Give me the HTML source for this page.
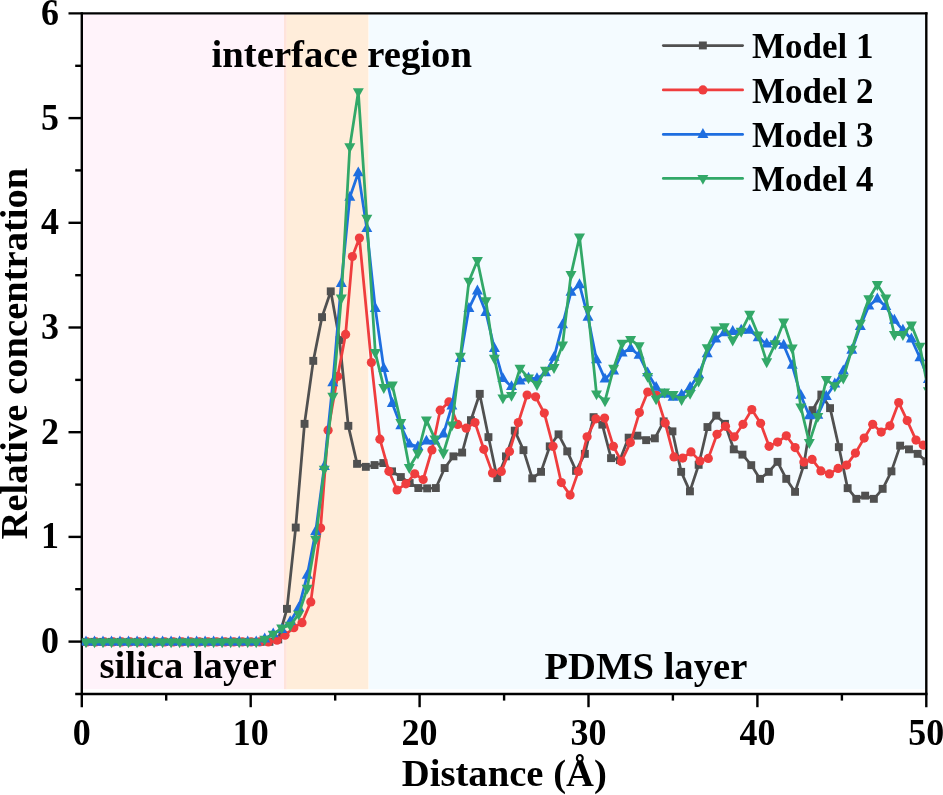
<!DOCTYPE html><html><head><meta charset="utf-8"><title>chart</title><style>html,body{margin:0;padding:0;background:#fff}svg{display:block;will-change:transform}text{font-family:"Liberation Serif",serif;font-weight:bold;fill:#000}</style></head><body>
<svg width="943" height="795" viewBox="0 0 943 795">
<rect width="943" height="795" fill="#fff"/>
<rect x="83" y="14.4" width="201.0" height="674.8000000000001" fill="#FFF3FA"/>
<rect x="284" y="14.4" width="2.8" height="674.8000000000001" fill="#FFE3DB"/>
<rect x="286.6" y="14.4" width="81.79999999999995" height="674.8000000000001" fill="#FFEDDA"/>
<rect x="369" y="14.4" width="556.2" height="674.8000000000001" fill="#F4FBFF"/>
<defs><clipPath id="c"><rect x="81.7" y="13.399999999999977" width="843.4499999999999" height="680.5500000000001"/></clipPath></defs>
<g stroke="#000" stroke-width="2.4" fill="none" stroke-linecap="butt">
<line x1="81.8" y1="12.199999999999978" x2="81.8" y2="707.2"/>
<line x1="926.3" y1="12.199999999999978" x2="926.3" y2="707.2"/>
<line x1="68.5" y1="13.399999999999977" x2="927.5" y2="13.399999999999977"/>
<line x1="75.2" y1="693.95" x2="927.5" y2="693.95"/>
<line x1="68.5" y1="641.6" x2="81.8" y2="641.6"/>
<line x1="75.2" y1="589.2" x2="81.8" y2="589.2"/>
<line x1="68.5" y1="536.9" x2="81.8" y2="536.9"/>
<line x1="75.2" y1="484.6" x2="81.8" y2="484.6"/>
<line x1="68.5" y1="432.2" x2="81.8" y2="432.2"/>
<line x1="75.2" y1="379.9" x2="81.8" y2="379.9"/>
<line x1="68.5" y1="327.5" x2="81.8" y2="327.5"/>
<line x1="75.2" y1="275.2" x2="81.8" y2="275.2"/>
<line x1="68.5" y1="222.8" x2="81.8" y2="222.8"/>
<line x1="75.2" y1="170.4" x2="81.8" y2="170.4"/>
<line x1="68.5" y1="118.1" x2="81.8" y2="118.1"/>
<line x1="75.2" y1="65.8" x2="81.8" y2="65.8"/>
<line x1="166.2" y1="694.0" x2="166.2" y2="700.6"/>
<line x1="250.7" y1="694.0" x2="250.7" y2="707.2"/>
<line x1="335.2" y1="694.0" x2="335.2" y2="700.6"/>
<line x1="419.6" y1="694.0" x2="419.6" y2="707.2"/>
<line x1="504.1" y1="694.0" x2="504.1" y2="700.6"/>
<line x1="588.5" y1="694.0" x2="588.5" y2="707.2"/>
<line x1="672.9" y1="694.0" x2="672.9" y2="700.6"/>
<line x1="757.4" y1="694.0" x2="757.4" y2="707.2"/>
<line x1="841.9" y1="694.0" x2="841.9" y2="700.6"/>
</g>
<g clip-path="url(#c)">
<polyline fill="none" stroke="#505050" stroke-width="2.75" stroke-linejoin="round" stroke-linecap="round" points="85.5,641.9 94.3,641.9 103.0,641.9 111.8,641.9 120.5,641.9 129.3,641.9 138.1,641.9 146.8,641.9 155.6,641.9 164.3,641.9 173.1,641.9 181.9,641.9 190.6,641.9 199.4,641.9 208.1,641.9 216.9,641.9 225.7,641.9 234.4,641.9 243.2,641.9 251.9,641.9 260.7,641.9 269.5,641.9 278.2,639.5 287.0,608.9 295.7,527.6 304.5,423.9 313.3,360.9 322.0,317.1 330.8,291.3 339.5,340.0 348.3,425.9 357.1,463.8 365.8,466.8 374.6,465.0 383.3,463.0 392.1,471.3 400.9,477.0 409.6,483.0 418.4,488.0 427.1,488.3 435.9,488.0 444.7,468.0 453.4,456.3 462.2,452.5 470.9,420.2 479.7,393.9 488.5,437.1 497.2,478.1 506.0,456.4 514.7,430.6 523.5,450.1 532.3,478.4 541.0,471.9 549.8,446.3 558.5,434.3 567.3,451.4 576.1,470.9 584.8,453.9 593.6,417.1 602.3,424.6 611.1,458.1 619.9,460.1 628.6,437.6 637.4,435.6 646.1,440.1 654.9,438.3 663.7,421.3 672.4,431.3 681.2,471.9 689.9,491.4 698.7,464.8 707.5,427.0 716.2,415.6 725.0,423.8 733.7,449.3 742.5,454.6 751.3,465.1 760.0,478.9 768.8,471.9 777.5,461.9 786.3,478.9 795.1,491.9 803.8,465.1 812.6,410.1 821.3,394.5 830.1,408.1 838.9,447.1 847.6,488.1 856.4,498.9 865.1,495.6 873.9,498.9 882.7,488.9 891.4,471.4 900.2,445.6 908.9,449.3 917.7,453.9 926.5,461.4"/>
<rect x="81.5" y="637.9" width="7.9" height="7.9" fill="#505050"/><rect x="90.3" y="637.9" width="7.9" height="7.9" fill="#505050"/><rect x="99.1" y="637.9" width="7.9" height="7.9" fill="#505050"/><rect x="107.8" y="637.9" width="7.9" height="7.9" fill="#505050"/><rect x="116.6" y="637.9" width="7.9" height="7.9" fill="#505050"/><rect x="125.4" y="637.9" width="7.9" height="7.9" fill="#505050"/><rect x="134.1" y="637.9" width="7.9" height="7.9" fill="#505050"/><rect x="142.9" y="637.9" width="7.9" height="7.9" fill="#505050"/><rect x="151.6" y="637.9" width="7.9" height="7.9" fill="#505050"/><rect x="160.4" y="637.9" width="7.9" height="7.9" fill="#505050"/><rect x="169.2" y="637.9" width="7.9" height="7.9" fill="#505050"/><rect x="177.9" y="637.9" width="7.9" height="7.9" fill="#505050"/><rect x="186.7" y="637.9" width="7.9" height="7.9" fill="#505050"/><rect x="195.4" y="637.9" width="7.9" height="7.9" fill="#505050"/><rect x="204.2" y="637.9" width="7.9" height="7.9" fill="#505050"/><rect x="213.0" y="637.9" width="7.9" height="7.9" fill="#505050"/><rect x="221.7" y="637.9" width="7.9" height="7.9" fill="#505050"/><rect x="230.5" y="637.9" width="7.9" height="7.9" fill="#505050"/><rect x="239.2" y="637.9" width="7.9" height="7.9" fill="#505050"/><rect x="248.0" y="637.9" width="7.9" height="7.9" fill="#505050"/><rect x="256.8" y="637.9" width="7.9" height="7.9" fill="#505050"/><rect x="265.5" y="637.9" width="7.9" height="7.9" fill="#505050"/><rect x="274.3" y="635.5" width="7.9" height="7.9" fill="#505050"/><rect x="283.0" y="604.9" width="7.9" height="7.9" fill="#505050"/><rect x="291.8" y="523.6" width="7.9" height="7.9" fill="#505050"/><rect x="300.6" y="419.9" width="7.9" height="7.9" fill="#505050"/><rect x="309.3" y="356.9" width="7.9" height="7.9" fill="#505050"/><rect x="318.1" y="313.2" width="7.9" height="7.9" fill="#505050"/><rect x="326.8" y="287.4" width="7.9" height="7.9" fill="#505050"/><rect x="335.6" y="336.1" width="7.9" height="7.9" fill="#505050"/><rect x="344.4" y="421.9" width="7.9" height="7.9" fill="#505050"/><rect x="353.1" y="459.9" width="7.9" height="7.9" fill="#505050"/><rect x="361.9" y="462.9" width="7.9" height="7.9" fill="#505050"/><rect x="370.6" y="461.1" width="7.9" height="7.9" fill="#505050"/><rect x="379.4" y="459.1" width="7.9" height="7.9" fill="#505050"/><rect x="388.1" y="467.4" width="7.9" height="7.9" fill="#505050"/><rect x="396.9" y="473.1" width="7.9" height="7.9" fill="#505050"/><rect x="405.7" y="479.1" width="7.9" height="7.9" fill="#505050"/><rect x="414.4" y="484.1" width="7.9" height="7.9" fill="#505050"/><rect x="423.2" y="484.4" width="7.9" height="7.9" fill="#505050"/><rect x="431.9" y="484.1" width="7.9" height="7.9" fill="#505050"/><rect x="440.7" y="464.1" width="7.9" height="7.9" fill="#505050"/><rect x="449.5" y="452.4" width="7.9" height="7.9" fill="#505050"/><rect x="458.2" y="448.6" width="7.9" height="7.9" fill="#505050"/><rect x="467.0" y="416.2" width="7.9" height="7.9" fill="#505050"/><rect x="475.8" y="389.9" width="7.9" height="7.9" fill="#505050"/><rect x="484.5" y="433.2" width="7.9" height="7.9" fill="#505050"/><rect x="493.3" y="474.2" width="7.9" height="7.9" fill="#505050"/><rect x="502.0" y="452.4" width="7.9" height="7.9" fill="#505050"/><rect x="510.8" y="426.7" width="7.9" height="7.9" fill="#505050"/><rect x="519.5" y="446.2" width="7.9" height="7.9" fill="#505050"/><rect x="528.3" y="474.4" width="7.9" height="7.9" fill="#505050"/><rect x="537.1" y="467.9" width="7.9" height="7.9" fill="#505050"/><rect x="545.8" y="442.4" width="7.9" height="7.9" fill="#505050"/><rect x="554.6" y="430.4" width="7.9" height="7.9" fill="#505050"/><rect x="563.3" y="447.4" width="7.9" height="7.9" fill="#505050"/><rect x="572.1" y="466.9" width="7.9" height="7.9" fill="#505050"/><rect x="580.9" y="449.9" width="7.9" height="7.9" fill="#505050"/><rect x="589.6" y="413.2" width="7.9" height="7.9" fill="#505050"/><rect x="598.4" y="420.7" width="7.9" height="7.9" fill="#505050"/><rect x="607.1" y="454.2" width="7.9" height="7.9" fill="#505050"/><rect x="615.9" y="456.2" width="7.9" height="7.9" fill="#505050"/><rect x="624.7" y="433.7" width="7.9" height="7.9" fill="#505050"/><rect x="633.4" y="431.7" width="7.9" height="7.9" fill="#505050"/><rect x="642.2" y="436.2" width="7.9" height="7.9" fill="#505050"/><rect x="650.9" y="434.4" width="7.9" height="7.9" fill="#505050"/><rect x="659.7" y="417.4" width="7.9" height="7.9" fill="#505050"/><rect x="668.5" y="427.4" width="7.9" height="7.9" fill="#505050"/><rect x="677.2" y="467.9" width="7.9" height="7.9" fill="#505050"/><rect x="686.0" y="487.4" width="7.9" height="7.9" fill="#505050"/><rect x="694.7" y="460.9" width="7.9" height="7.9" fill="#505050"/><rect x="703.5" y="423.1" width="7.9" height="7.9" fill="#505050"/><rect x="712.3" y="411.7" width="7.9" height="7.9" fill="#505050"/><rect x="721.0" y="419.9" width="7.9" height="7.9" fill="#505050"/><rect x="729.8" y="445.4" width="7.9" height="7.9" fill="#505050"/><rect x="738.5" y="450.7" width="7.9" height="7.9" fill="#505050"/><rect x="747.3" y="461.2" width="7.9" height="7.9" fill="#505050"/><rect x="756.1" y="474.9" width="7.9" height="7.9" fill="#505050"/><rect x="764.8" y="467.9" width="7.9" height="7.9" fill="#505050"/><rect x="773.6" y="457.9" width="7.9" height="7.9" fill="#505050"/><rect x="782.3" y="474.9" width="7.9" height="7.9" fill="#505050"/><rect x="791.1" y="487.9" width="7.9" height="7.9" fill="#505050"/><rect x="799.9" y="461.2" width="7.9" height="7.9" fill="#505050"/><rect x="808.6" y="406.2" width="7.9" height="7.9" fill="#505050"/><rect x="817.4" y="390.6" width="7.9" height="7.9" fill="#505050"/><rect x="826.1" y="404.2" width="7.9" height="7.9" fill="#505050"/><rect x="834.9" y="443.2" width="7.9" height="7.9" fill="#505050"/><rect x="843.7" y="484.2" width="7.9" height="7.9" fill="#505050"/><rect x="852.4" y="494.9" width="7.9" height="7.9" fill="#505050"/><rect x="861.2" y="491.7" width="7.9" height="7.9" fill="#505050"/><rect x="869.9" y="494.9" width="7.9" height="7.9" fill="#505050"/><rect x="878.7" y="484.9" width="7.9" height="7.9" fill="#505050"/><rect x="887.5" y="467.4" width="7.9" height="7.9" fill="#505050"/><rect x="896.2" y="441.7" width="7.9" height="7.9" fill="#505050"/><rect x="905.0" y="445.4" width="7.9" height="7.9" fill="#505050"/><rect x="913.7" y="449.9" width="7.9" height="7.9" fill="#505050"/><rect x="922.5" y="457.4" width="7.9" height="7.9" fill="#505050"/>
<polyline fill="none" stroke="#EF3D3E" stroke-width="2.75" stroke-linejoin="round" stroke-linecap="round" points="87.1,641.9 95.7,641.9 104.4,641.9 113.0,641.9 121.6,641.9 130.2,641.9 138.9,641.9 147.5,641.9 156.1,641.9 164.8,641.9 173.4,641.9 182.0,641.9 190.7,641.9 199.3,641.9 207.9,641.9 216.6,641.9 225.2,641.9 233.8,641.9 242.4,641.9 251.1,641.9 259.7,641.9 268.3,641.9 277.0,640.2 285.0,635.2 293.8,627.7 302.0,622.7 310.8,601.9 320.6,528.1 328.1,430.2 337.6,376.4 345.6,334.4 352.4,256.5 359.4,238.1 371.4,362.6 379.9,439.2 388.9,471.3 397.1,490.0 405.9,483.8 414.7,473.8 423.2,479.5 431.9,450.0 440.2,410.2 448.9,401.9 457.7,424.4 466.2,428.2 475.0,422.6 483.8,449.3 492.5,473.1 501.3,471.4 509.5,451.4 518.3,422.6 527.1,395.0 535.6,396.8 544.3,413.1 553.1,446.3 561.3,482.6 570.1,495.1 578.4,471.4 587.1,436.8 595.9,418.8 604.6,418.1 613.4,446.3 621.4,461.4 630.4,442.6 639.4,412.6 647.7,392.0 656.4,395.0 665.2,423.1 674.0,456.9 682.7,458.1 691.0,451.9 700.0,461.0 708.3,458.4 717.0,434.3 725.5,426.3 734.3,436.8 743.0,424.3 751.8,409.6 760.6,423.3 769.1,446.3 777.6,442.1 786.3,435.8 795.1,447.6 803.9,462.1 812.1,459.4 820.9,470.9 829.4,473.9 838.1,468.4 846.6,465.1 855.4,453.1 864.2,438.1 872.7,424.3 881.2,432.1 889.9,425.8 898.7,402.6 907.2,420.6 916.0,440.1 923.2,445.1 931.5,452.0"/>
<circle cx="87.1" cy="641.9" r="4.6" fill="#EF3D3E"/><circle cx="95.7" cy="641.9" r="4.6" fill="#EF3D3E"/><circle cx="104.4" cy="641.9" r="4.6" fill="#EF3D3E"/><circle cx="113.0" cy="641.9" r="4.6" fill="#EF3D3E"/><circle cx="121.6" cy="641.9" r="4.6" fill="#EF3D3E"/><circle cx="130.2" cy="641.9" r="4.6" fill="#EF3D3E"/><circle cx="138.9" cy="641.9" r="4.6" fill="#EF3D3E"/><circle cx="147.5" cy="641.9" r="4.6" fill="#EF3D3E"/><circle cx="156.1" cy="641.9" r="4.6" fill="#EF3D3E"/><circle cx="164.8" cy="641.9" r="4.6" fill="#EF3D3E"/><circle cx="173.4" cy="641.9" r="4.6" fill="#EF3D3E"/><circle cx="182.0" cy="641.9" r="4.6" fill="#EF3D3E"/><circle cx="190.7" cy="641.9" r="4.6" fill="#EF3D3E"/><circle cx="199.3" cy="641.9" r="4.6" fill="#EF3D3E"/><circle cx="207.9" cy="641.9" r="4.6" fill="#EF3D3E"/><circle cx="216.6" cy="641.9" r="4.6" fill="#EF3D3E"/><circle cx="225.2" cy="641.9" r="4.6" fill="#EF3D3E"/><circle cx="233.8" cy="641.9" r="4.6" fill="#EF3D3E"/><circle cx="242.4" cy="641.9" r="4.6" fill="#EF3D3E"/><circle cx="251.1" cy="641.9" r="4.6" fill="#EF3D3E"/><circle cx="259.7" cy="641.9" r="4.6" fill="#EF3D3E"/><circle cx="268.3" cy="641.9" r="4.6" fill="#EF3D3E"/><circle cx="277.0" cy="640.2" r="4.6" fill="#EF3D3E"/><circle cx="285.0" cy="635.2" r="4.6" fill="#EF3D3E"/><circle cx="293.8" cy="627.7" r="4.6" fill="#EF3D3E"/><circle cx="302.0" cy="622.7" r="4.6" fill="#EF3D3E"/><circle cx="310.8" cy="601.9" r="4.6" fill="#EF3D3E"/><circle cx="320.6" cy="528.1" r="4.6" fill="#EF3D3E"/><circle cx="328.1" cy="430.2" r="4.6" fill="#EF3D3E"/><circle cx="337.6" cy="376.4" r="4.6" fill="#EF3D3E"/><circle cx="345.6" cy="334.4" r="4.6" fill="#EF3D3E"/><circle cx="352.4" cy="256.5" r="4.6" fill="#EF3D3E"/><circle cx="359.4" cy="238.1" r="4.6" fill="#EF3D3E"/><circle cx="371.4" cy="362.6" r="4.6" fill="#EF3D3E"/><circle cx="379.9" cy="439.2" r="4.6" fill="#EF3D3E"/><circle cx="388.9" cy="471.3" r="4.6" fill="#EF3D3E"/><circle cx="397.1" cy="490.0" r="4.6" fill="#EF3D3E"/><circle cx="405.9" cy="483.8" r="4.6" fill="#EF3D3E"/><circle cx="414.7" cy="473.8" r="4.6" fill="#EF3D3E"/><circle cx="423.2" cy="479.5" r="4.6" fill="#EF3D3E"/><circle cx="431.9" cy="450.0" r="4.6" fill="#EF3D3E"/><circle cx="440.2" cy="410.2" r="4.6" fill="#EF3D3E"/><circle cx="448.9" cy="401.9" r="4.6" fill="#EF3D3E"/><circle cx="457.7" cy="424.4" r="4.6" fill="#EF3D3E"/><circle cx="466.2" cy="428.2" r="4.6" fill="#EF3D3E"/><circle cx="475.0" cy="422.6" r="4.6" fill="#EF3D3E"/><circle cx="483.8" cy="449.3" r="4.6" fill="#EF3D3E"/><circle cx="492.5" cy="473.1" r="4.6" fill="#EF3D3E"/><circle cx="501.3" cy="471.4" r="4.6" fill="#EF3D3E"/><circle cx="509.5" cy="451.4" r="4.6" fill="#EF3D3E"/><circle cx="518.3" cy="422.6" r="4.6" fill="#EF3D3E"/><circle cx="527.1" cy="395.0" r="4.6" fill="#EF3D3E"/><circle cx="535.6" cy="396.8" r="4.6" fill="#EF3D3E"/><circle cx="544.3" cy="413.1" r="4.6" fill="#EF3D3E"/><circle cx="553.1" cy="446.3" r="4.6" fill="#EF3D3E"/><circle cx="561.3" cy="482.6" r="4.6" fill="#EF3D3E"/><circle cx="570.1" cy="495.1" r="4.6" fill="#EF3D3E"/><circle cx="578.4" cy="471.4" r="4.6" fill="#EF3D3E"/><circle cx="587.1" cy="436.8" r="4.6" fill="#EF3D3E"/><circle cx="595.9" cy="418.8" r="4.6" fill="#EF3D3E"/><circle cx="604.6" cy="418.1" r="4.6" fill="#EF3D3E"/><circle cx="613.4" cy="446.3" r="4.6" fill="#EF3D3E"/><circle cx="621.4" cy="461.4" r="4.6" fill="#EF3D3E"/><circle cx="630.4" cy="442.6" r="4.6" fill="#EF3D3E"/><circle cx="639.4" cy="412.6" r="4.6" fill="#EF3D3E"/><circle cx="647.7" cy="392.0" r="4.6" fill="#EF3D3E"/><circle cx="656.4" cy="395.0" r="4.6" fill="#EF3D3E"/><circle cx="665.2" cy="423.1" r="4.6" fill="#EF3D3E"/><circle cx="674.0" cy="456.9" r="4.6" fill="#EF3D3E"/><circle cx="682.7" cy="458.1" r="4.6" fill="#EF3D3E"/><circle cx="691.0" cy="451.9" r="4.6" fill="#EF3D3E"/><circle cx="700.0" cy="461.0" r="4.6" fill="#EF3D3E"/><circle cx="708.3" cy="458.4" r="4.6" fill="#EF3D3E"/><circle cx="717.0" cy="434.3" r="4.6" fill="#EF3D3E"/><circle cx="725.5" cy="426.3" r="4.6" fill="#EF3D3E"/><circle cx="734.3" cy="436.8" r="4.6" fill="#EF3D3E"/><circle cx="743.0" cy="424.3" r="4.6" fill="#EF3D3E"/><circle cx="751.8" cy="409.6" r="4.6" fill="#EF3D3E"/><circle cx="760.6" cy="423.3" r="4.6" fill="#EF3D3E"/><circle cx="769.1" cy="446.3" r="4.6" fill="#EF3D3E"/><circle cx="777.6" cy="442.1" r="4.6" fill="#EF3D3E"/><circle cx="786.3" cy="435.8" r="4.6" fill="#EF3D3E"/><circle cx="795.1" cy="447.6" r="4.6" fill="#EF3D3E"/><circle cx="803.9" cy="462.1" r="4.6" fill="#EF3D3E"/><circle cx="812.1" cy="459.4" r="4.6" fill="#EF3D3E"/><circle cx="820.9" cy="470.9" r="4.6" fill="#EF3D3E"/><circle cx="829.4" cy="473.9" r="4.6" fill="#EF3D3E"/><circle cx="838.1" cy="468.4" r="4.6" fill="#EF3D3E"/><circle cx="846.6" cy="465.1" r="4.6" fill="#EF3D3E"/><circle cx="855.4" cy="453.1" r="4.6" fill="#EF3D3E"/><circle cx="864.2" cy="438.1" r="4.6" fill="#EF3D3E"/><circle cx="872.7" cy="424.3" r="4.6" fill="#EF3D3E"/><circle cx="881.2" cy="432.1" r="4.6" fill="#EF3D3E"/><circle cx="889.9" cy="425.8" r="4.6" fill="#EF3D3E"/><circle cx="898.7" cy="402.6" r="4.6" fill="#EF3D3E"/><circle cx="907.2" cy="420.6" r="4.6" fill="#EF3D3E"/><circle cx="916.0" cy="440.1" r="4.6" fill="#EF3D3E"/><circle cx="923.2" cy="445.1" r="4.6" fill="#EF3D3E"/><circle cx="931.5" cy="452.0" r="4.6" fill="#EF3D3E"/>
<polyline fill="none" stroke="#1E6EE0" stroke-width="2.75" stroke-linejoin="round" stroke-linecap="round" points="86.0,641.9 94.5,641.9 103.0,641.9 111.5,641.9 120.0,641.9 128.5,641.9 137.1,641.9 145.6,641.9 154.1,641.9 162.6,641.9 171.1,641.9 179.6,641.9 188.1,641.9 196.6,641.9 205.1,641.9 213.6,641.9 222.1,641.9 230.7,641.9 239.2,641.9 247.7,641.9 256.2,641.9 264.7,638.9 273.2,633.8 281.7,629.4 290.2,621.6 298.7,607.8 307.2,575.3 315.7,531.5 324.3,466.4 332.8,382.8 341.3,283.4 349.8,197.3 358.3,172.8 366.8,228.6 375.3,308.4 383.8,368.5 392.3,403.5 400.8,425.8 409.3,444.1 417.9,446.6 426.4,441.1 434.9,441.1 443.4,434.1 451.9,406.0 460.4,358.5 468.9,308.4 477.4,290.9 485.9,312.4 494.4,348.5 502.9,378.6 511.5,386.6 520.0,381.1 528.5,378.1 537.0,378.6 545.5,372.8 554.0,357.3 562.5,324.8 571.0,292.2 579.5,284.7 588.0,317.2 596.5,359.8 605.0,379.1 613.6,371.0 622.1,353.0 630.6,348.5 639.1,355.3 647.6,372.8 656.1,387.3 664.6,394.3 673.1,397.3 681.6,394.8 690.1,387.3 698.6,374.4 707.2,353.8 715.7,339.0 724.2,332.7 732.7,331.5 741.2,330.2 749.7,330.2 758.2,337.7 766.7,344.0 775.2,341.5 783.7,345.2 792.2,365.3 800.8,395.3 809.3,415.8 817.8,415.3 826.3,396.5 834.8,384.0 843.3,370.8 851.8,350.2 860.3,326.5 868.8,306.0 877.3,298.9 885.8,306.5 894.4,320.2 902.9,330.2 911.4,339.0 919.9,357.8 928.4,379.4"/>
<path d="M86.0 635.5L91.5 645.4L80.5 645.4Z" fill="#1E6EE0"/><path d="M94.5 635.5L100.0 645.4L89.0 645.4Z" fill="#1E6EE0"/><path d="M103.0 635.5L108.5 645.4L97.5 645.4Z" fill="#1E6EE0"/><path d="M111.5 635.5L117.0 645.4L106.0 645.4Z" fill="#1E6EE0"/><path d="M120.0 635.5L125.5 645.4L114.5 645.4Z" fill="#1E6EE0"/><path d="M128.5 635.5L134.0 645.4L123.0 645.4Z" fill="#1E6EE0"/><path d="M137.1 635.5L142.6 645.4L131.6 645.4Z" fill="#1E6EE0"/><path d="M145.6 635.5L151.1 645.4L140.1 645.4Z" fill="#1E6EE0"/><path d="M154.1 635.5L159.6 645.4L148.6 645.4Z" fill="#1E6EE0"/><path d="M162.6 635.5L168.1 645.4L157.1 645.4Z" fill="#1E6EE0"/><path d="M171.1 635.5L176.6 645.4L165.6 645.4Z" fill="#1E6EE0"/><path d="M179.6 635.5L185.1 645.4L174.1 645.4Z" fill="#1E6EE0"/><path d="M188.1 635.5L193.6 645.4L182.6 645.4Z" fill="#1E6EE0"/><path d="M196.6 635.5L202.1 645.4L191.1 645.4Z" fill="#1E6EE0"/><path d="M205.1 635.5L210.6 645.4L199.6 645.4Z" fill="#1E6EE0"/><path d="M213.6 635.5L219.1 645.4L208.1 645.4Z" fill="#1E6EE0"/><path d="M222.1 635.5L227.6 645.4L216.6 645.4Z" fill="#1E6EE0"/><path d="M230.7 635.5L236.2 645.4L225.2 645.4Z" fill="#1E6EE0"/><path d="M239.2 635.5L244.7 645.4L233.7 645.4Z" fill="#1E6EE0"/><path d="M247.7 635.5L253.2 645.4L242.2 645.4Z" fill="#1E6EE0"/><path d="M256.2 635.5L261.7 645.4L250.7 645.4Z" fill="#1E6EE0"/><path d="M264.7 632.5L270.2 642.4L259.2 642.4Z" fill="#1E6EE0"/><path d="M273.2 627.4L278.7 637.3L267.7 637.3Z" fill="#1E6EE0"/><path d="M281.7 623.0L287.2 632.9L276.2 632.9Z" fill="#1E6EE0"/><path d="M290.2 615.2L295.7 625.1L284.7 625.1Z" fill="#1E6EE0"/><path d="M298.7 601.4L304.2 611.3L293.2 611.3Z" fill="#1E6EE0"/><path d="M307.2 568.9L312.7 578.8L301.7 578.8Z" fill="#1E6EE0"/><path d="M315.7 525.1L321.2 535.0L310.2 535.0Z" fill="#1E6EE0"/><path d="M324.3 460.0L329.8 469.9L318.8 469.9Z" fill="#1E6EE0"/><path d="M332.8 376.4L338.3 386.3L327.3 386.3Z" fill="#1E6EE0"/><path d="M341.3 277.0L346.8 286.9L335.8 286.9Z" fill="#1E6EE0"/><path d="M349.8 190.9L355.3 200.8L344.3 200.8Z" fill="#1E6EE0"/><path d="M358.3 166.4L363.8 176.3L352.8 176.3Z" fill="#1E6EE0"/><path d="M366.8 222.2L372.3 232.1L361.3 232.1Z" fill="#1E6EE0"/><path d="M375.3 302.0L380.8 311.9L369.8 311.9Z" fill="#1E6EE0"/><path d="M383.8 362.1L389.3 372.0L378.3 372.0Z" fill="#1E6EE0"/><path d="M392.3 397.1L397.8 407.0L386.8 407.0Z" fill="#1E6EE0"/><path d="M400.8 419.4L406.3 429.3L395.3 429.3Z" fill="#1E6EE0"/><path d="M409.3 437.7L414.8 447.6L403.8 447.6Z" fill="#1E6EE0"/><path d="M417.9 440.2L423.4 450.1L412.4 450.1Z" fill="#1E6EE0"/><path d="M426.4 434.7L431.9 444.6L420.9 444.6Z" fill="#1E6EE0"/><path d="M434.9 434.7L440.4 444.6L429.4 444.6Z" fill="#1E6EE0"/><path d="M443.4 427.7L448.9 437.6L437.9 437.6Z" fill="#1E6EE0"/><path d="M451.9 399.6L457.4 409.5L446.4 409.5Z" fill="#1E6EE0"/><path d="M460.4 352.1L465.9 362.0L454.9 362.0Z" fill="#1E6EE0"/><path d="M468.9 302.0L474.4 311.9L463.4 311.9Z" fill="#1E6EE0"/><path d="M477.4 284.5L482.9 294.4L471.9 294.4Z" fill="#1E6EE0"/><path d="M485.9 306.0L491.4 315.9L480.4 315.9Z" fill="#1E6EE0"/><path d="M494.4 342.1L499.9 352.0L488.9 352.0Z" fill="#1E6EE0"/><path d="M502.9 372.2L508.4 382.1L497.4 382.1Z" fill="#1E6EE0"/><path d="M511.5 380.2L517.0 390.1L506.0 390.1Z" fill="#1E6EE0"/><path d="M520.0 374.7L525.5 384.6L514.5 384.6Z" fill="#1E6EE0"/><path d="M528.5 371.7L534.0 381.6L523.0 381.6Z" fill="#1E6EE0"/><path d="M537.0 372.2L542.5 382.1L531.5 382.1Z" fill="#1E6EE0"/><path d="M545.5 366.4L551.0 376.3L540.0 376.3Z" fill="#1E6EE0"/><path d="M554.0 350.9L559.5 360.8L548.5 360.8Z" fill="#1E6EE0"/><path d="M562.5 318.4L568.0 328.3L557.0 328.3Z" fill="#1E6EE0"/><path d="M571.0 285.8L576.5 295.7L565.5 295.7Z" fill="#1E6EE0"/><path d="M579.5 278.3L585.0 288.2L574.0 288.2Z" fill="#1E6EE0"/><path d="M588.0 310.8L593.5 320.7L582.5 320.7Z" fill="#1E6EE0"/><path d="M596.5 353.4L602.0 363.3L591.0 363.3Z" fill="#1E6EE0"/><path d="M605.0 372.7L610.5 382.6L599.5 382.6Z" fill="#1E6EE0"/><path d="M613.6 364.6L619.1 374.5L608.1 374.5Z" fill="#1E6EE0"/><path d="M622.1 346.6L627.6 356.5L616.6 356.5Z" fill="#1E6EE0"/><path d="M630.6 342.1L636.1 352.0L625.1 352.0Z" fill="#1E6EE0"/><path d="M639.1 348.9L644.6 358.8L633.6 358.8Z" fill="#1E6EE0"/><path d="M647.6 366.4L653.1 376.3L642.1 376.3Z" fill="#1E6EE0"/><path d="M656.1 380.9L661.6 390.8L650.6 390.8Z" fill="#1E6EE0"/><path d="M664.6 387.9L670.1 397.8L659.1 397.8Z" fill="#1E6EE0"/><path d="M673.1 390.9L678.6 400.8L667.6 400.8Z" fill="#1E6EE0"/><path d="M681.6 388.4L687.1 398.3L676.1 398.3Z" fill="#1E6EE0"/><path d="M690.1 380.9L695.6 390.8L684.6 390.8Z" fill="#1E6EE0"/><path d="M698.6 368.0L704.1 377.9L693.1 377.9Z" fill="#1E6EE0"/><path d="M707.2 347.4L712.7 357.3L701.7 357.3Z" fill="#1E6EE0"/><path d="M715.7 332.6L721.2 342.5L710.2 342.5Z" fill="#1E6EE0"/><path d="M724.2 326.3L729.7 336.2L718.7 336.2Z" fill="#1E6EE0"/><path d="M732.7 325.1L738.2 335.0L727.2 335.0Z" fill="#1E6EE0"/><path d="M741.2 323.8L746.7 333.7L735.7 333.7Z" fill="#1E6EE0"/><path d="M749.7 323.8L755.2 333.7L744.2 333.7Z" fill="#1E6EE0"/><path d="M758.2 331.3L763.7 341.2L752.7 341.2Z" fill="#1E6EE0"/><path d="M766.7 337.6L772.2 347.5L761.2 347.5Z" fill="#1E6EE0"/><path d="M775.2 335.1L780.7 345.0L769.7 345.0Z" fill="#1E6EE0"/><path d="M783.7 338.8L789.2 348.7L778.2 348.7Z" fill="#1E6EE0"/><path d="M792.2 358.9L797.7 368.8L786.7 368.8Z" fill="#1E6EE0"/><path d="M800.8 388.9L806.3 398.8L795.3 398.8Z" fill="#1E6EE0"/><path d="M809.3 409.4L814.8 419.3L803.8 419.3Z" fill="#1E6EE0"/><path d="M817.8 408.9L823.3 418.8L812.3 418.8Z" fill="#1E6EE0"/><path d="M826.3 390.1L831.8 400.0L820.8 400.0Z" fill="#1E6EE0"/><path d="M834.8 377.6L840.3 387.5L829.3 387.5Z" fill="#1E6EE0"/><path d="M843.3 364.4L848.8 374.3L837.8 374.3Z" fill="#1E6EE0"/><path d="M851.8 343.8L857.3 353.7L846.3 353.7Z" fill="#1E6EE0"/><path d="M860.3 320.1L865.8 330.0L854.8 330.0Z" fill="#1E6EE0"/><path d="M868.8 299.6L874.3 309.5L863.3 309.5Z" fill="#1E6EE0"/><path d="M877.3 292.5L882.8 302.4L871.8 302.4Z" fill="#1E6EE0"/><path d="M885.8 300.1L891.3 310.0L880.3 310.0Z" fill="#1E6EE0"/><path d="M894.4 313.8L899.9 323.7L888.9 323.7Z" fill="#1E6EE0"/><path d="M902.9 323.8L908.4 333.7L897.4 333.7Z" fill="#1E6EE0"/><path d="M911.4 332.6L916.9 342.5L905.9 342.5Z" fill="#1E6EE0"/><path d="M919.9 351.4L925.4 361.3L914.4 361.3Z" fill="#1E6EE0"/><path d="M928.4 373.0L933.9 382.9L922.9 382.9Z" fill="#1E6EE0"/>
<polyline fill="none" stroke="#32A868" stroke-width="2.75" stroke-linejoin="round" stroke-linecap="round" points="86.0,641.9 94.5,641.9 103.0,641.9 111.5,641.9 120.0,641.9 128.5,641.9 137.1,641.9 145.6,641.9 154.1,641.9 162.6,641.9 171.1,641.9 179.6,641.9 188.1,641.9 196.6,641.9 205.1,641.9 213.6,641.9 222.1,641.9 230.7,641.9 239.2,641.9 247.7,641.9 256.2,641.9 264.7,639.3 273.2,634.3 281.7,628.0 290.2,625.3 298.7,614.2 307.2,588.2 315.7,539.2 324.3,469.2 332.8,396.3 341.3,298.0 349.8,146.8 358.3,91.7 366.8,218.3 375.3,352.5 383.8,387.6 392.3,385.1 400.8,422.6 409.3,467.5 417.9,453.2 426.4,420.1 434.9,438.9 443.4,453.0 451.9,425.1 460.4,356.3 468.9,281.2 477.4,260.5 485.9,300.8 494.4,358.3 502.9,397.9 511.5,395.4 520.0,368.3 528.5,377.9 537.0,384.6 545.5,370.3 554.0,367.6 562.5,345.1 571.0,274.5 579.5,237.0 588.0,309.5 596.5,393.9 605.0,400.9 613.6,368.3 622.1,343.3 630.6,339.6 639.1,345.8 647.6,376.4 656.1,398.9 664.6,392.1 673.1,394.6 681.6,399.6 690.1,393.4 698.6,381.1 707.2,347.7 715.7,330.0 724.2,326.8 732.7,340.0 741.2,331.3 749.7,314.3 758.2,335.0 766.7,361.8 775.2,343.8 783.7,322.0 792.2,348.0 800.8,406.9 809.3,442.6 817.8,416.4 826.3,379.6 834.8,385.8 843.3,378.1 851.8,349.3 860.3,323.3 868.8,298.8 877.3,284.5 885.8,298.0 894.4,334.5 902.9,334.5 911.4,325.0 919.9,346.3 928.4,390.7"/>
<path d="M86.0 648.3L91.5 638.4L80.5 638.4Z" fill="#32A868"/><path d="M94.5 648.3L100.0 638.4L89.0 638.4Z" fill="#32A868"/><path d="M103.0 648.3L108.5 638.4L97.5 638.4Z" fill="#32A868"/><path d="M111.5 648.3L117.0 638.4L106.0 638.4Z" fill="#32A868"/><path d="M120.0 648.3L125.5 638.4L114.5 638.4Z" fill="#32A868"/><path d="M128.5 648.3L134.0 638.4L123.0 638.4Z" fill="#32A868"/><path d="M137.1 648.3L142.6 638.4L131.6 638.4Z" fill="#32A868"/><path d="M145.6 648.3L151.1 638.4L140.1 638.4Z" fill="#32A868"/><path d="M154.1 648.3L159.6 638.4L148.6 638.4Z" fill="#32A868"/><path d="M162.6 648.3L168.1 638.4L157.1 638.4Z" fill="#32A868"/><path d="M171.1 648.3L176.6 638.4L165.6 638.4Z" fill="#32A868"/><path d="M179.6 648.3L185.1 638.4L174.1 638.4Z" fill="#32A868"/><path d="M188.1 648.3L193.6 638.4L182.6 638.4Z" fill="#32A868"/><path d="M196.6 648.3L202.1 638.4L191.1 638.4Z" fill="#32A868"/><path d="M205.1 648.3L210.6 638.4L199.6 638.4Z" fill="#32A868"/><path d="M213.6 648.3L219.1 638.4L208.1 638.4Z" fill="#32A868"/><path d="M222.1 648.3L227.6 638.4L216.6 638.4Z" fill="#32A868"/><path d="M230.7 648.3L236.2 638.4L225.2 638.4Z" fill="#32A868"/><path d="M239.2 648.3L244.7 638.4L233.7 638.4Z" fill="#32A868"/><path d="M247.7 648.3L253.2 638.4L242.2 638.4Z" fill="#32A868"/><path d="M256.2 648.3L261.7 638.4L250.7 638.4Z" fill="#32A868"/><path d="M264.7 645.7L270.2 635.8L259.2 635.8Z" fill="#32A868"/><path d="M273.2 640.7L278.7 630.8L267.7 630.8Z" fill="#32A868"/><path d="M281.7 634.4L287.2 624.5L276.2 624.5Z" fill="#32A868"/><path d="M290.2 631.7L295.7 621.8L284.7 621.8Z" fill="#32A868"/><path d="M298.7 620.6L304.2 610.7L293.2 610.7Z" fill="#32A868"/><path d="M307.2 594.6L312.7 584.7L301.7 584.7Z" fill="#32A868"/><path d="M315.7 545.6L321.2 535.7L310.2 535.7Z" fill="#32A868"/><path d="M324.3 475.6L329.8 465.7L318.8 465.7Z" fill="#32A868"/><path d="M332.8 402.7L338.3 392.8L327.3 392.8Z" fill="#32A868"/><path d="M341.3 304.4L346.8 294.5L335.8 294.5Z" fill="#32A868"/><path d="M349.8 153.2L355.3 143.3L344.3 143.3Z" fill="#32A868"/><path d="M358.3 98.1L363.8 88.2L352.8 88.2Z" fill="#32A868"/><path d="M366.8 224.7L372.3 214.8L361.3 214.8Z" fill="#32A868"/><path d="M375.3 358.9L380.8 349.0L369.8 349.0Z" fill="#32A868"/><path d="M383.8 394.0L389.3 384.1L378.3 384.1Z" fill="#32A868"/><path d="M392.3 391.5L397.8 381.6L386.8 381.6Z" fill="#32A868"/><path d="M400.8 429.0L406.3 419.1L395.3 419.1Z" fill="#32A868"/><path d="M409.3 473.9L414.8 464.0L403.8 464.0Z" fill="#32A868"/><path d="M417.9 459.6L423.4 449.7L412.4 449.7Z" fill="#32A868"/><path d="M426.4 426.5L431.9 416.6L420.9 416.6Z" fill="#32A868"/><path d="M434.9 445.3L440.4 435.4L429.4 435.4Z" fill="#32A868"/><path d="M443.4 459.4L448.9 449.5L437.9 449.5Z" fill="#32A868"/><path d="M451.9 431.5L457.4 421.6L446.4 421.6Z" fill="#32A868"/><path d="M460.4 362.7L465.9 352.8L454.9 352.8Z" fill="#32A868"/><path d="M468.9 287.6L474.4 277.7L463.4 277.7Z" fill="#32A868"/><path d="M477.4 266.9L482.9 257.0L471.9 257.0Z" fill="#32A868"/><path d="M485.9 307.2L491.4 297.3L480.4 297.3Z" fill="#32A868"/><path d="M494.4 364.7L499.9 354.8L488.9 354.8Z" fill="#32A868"/><path d="M502.9 404.3L508.4 394.4L497.4 394.4Z" fill="#32A868"/><path d="M511.5 401.8L517.0 391.9L506.0 391.9Z" fill="#32A868"/><path d="M520.0 374.7L525.5 364.8L514.5 364.8Z" fill="#32A868"/><path d="M528.5 384.3L534.0 374.4L523.0 374.4Z" fill="#32A868"/><path d="M537.0 391.0L542.5 381.1L531.5 381.1Z" fill="#32A868"/><path d="M545.5 376.7L551.0 366.8L540.0 366.8Z" fill="#32A868"/><path d="M554.0 374.0L559.5 364.1L548.5 364.1Z" fill="#32A868"/><path d="M562.5 351.5L568.0 341.6L557.0 341.6Z" fill="#32A868"/><path d="M571.0 280.9L576.5 271.0L565.5 271.0Z" fill="#32A868"/><path d="M579.5 243.4L585.0 233.5L574.0 233.5Z" fill="#32A868"/><path d="M588.0 315.9L593.5 306.0L582.5 306.0Z" fill="#32A868"/><path d="M596.5 400.3L602.0 390.4L591.0 390.4Z" fill="#32A868"/><path d="M605.0 407.3L610.5 397.4L599.5 397.4Z" fill="#32A868"/><path d="M613.6 374.7L619.1 364.8L608.1 364.8Z" fill="#32A868"/><path d="M622.1 349.7L627.6 339.8L616.6 339.8Z" fill="#32A868"/><path d="M630.6 346.0L636.1 336.1L625.1 336.1Z" fill="#32A868"/><path d="M639.1 352.2L644.6 342.3L633.6 342.3Z" fill="#32A868"/><path d="M647.6 382.8L653.1 372.9L642.1 372.9Z" fill="#32A868"/><path d="M656.1 405.3L661.6 395.4L650.6 395.4Z" fill="#32A868"/><path d="M664.6 398.5L670.1 388.6L659.1 388.6Z" fill="#32A868"/><path d="M673.1 401.0L678.6 391.1L667.6 391.1Z" fill="#32A868"/><path d="M681.6 406.0L687.1 396.1L676.1 396.1Z" fill="#32A868"/><path d="M690.1 399.8L695.6 389.9L684.6 389.9Z" fill="#32A868"/><path d="M698.6 387.5L704.1 377.6L693.1 377.6Z" fill="#32A868"/><path d="M707.2 354.1L712.7 344.2L701.7 344.2Z" fill="#32A868"/><path d="M715.7 336.4L721.2 326.5L710.2 326.5Z" fill="#32A868"/><path d="M724.2 333.2L729.7 323.3L718.7 323.3Z" fill="#32A868"/><path d="M732.7 346.4L738.2 336.5L727.2 336.5Z" fill="#32A868"/><path d="M741.2 337.7L746.7 327.8L735.7 327.8Z" fill="#32A868"/><path d="M749.7 320.7L755.2 310.8L744.2 310.8Z" fill="#32A868"/><path d="M758.2 341.4L763.7 331.5L752.7 331.5Z" fill="#32A868"/><path d="M766.7 368.2L772.2 358.3L761.2 358.3Z" fill="#32A868"/><path d="M775.2 350.2L780.7 340.3L769.7 340.3Z" fill="#32A868"/><path d="M783.7 328.4L789.2 318.5L778.2 318.5Z" fill="#32A868"/><path d="M792.2 354.4L797.7 344.5L786.7 344.5Z" fill="#32A868"/><path d="M800.8 413.3L806.3 403.4L795.3 403.4Z" fill="#32A868"/><path d="M809.3 449.0L814.8 439.1L803.8 439.1Z" fill="#32A868"/><path d="M817.8 422.8L823.3 412.9L812.3 412.9Z" fill="#32A868"/><path d="M826.3 386.0L831.8 376.1L820.8 376.1Z" fill="#32A868"/><path d="M834.8 392.2L840.3 382.3L829.3 382.3Z" fill="#32A868"/><path d="M843.3 384.5L848.8 374.6L837.8 374.6Z" fill="#32A868"/><path d="M851.8 355.7L857.3 345.8L846.3 345.8Z" fill="#32A868"/><path d="M860.3 329.7L865.8 319.8L854.8 319.8Z" fill="#32A868"/><path d="M868.8 305.2L874.3 295.3L863.3 295.3Z" fill="#32A868"/><path d="M877.3 290.9L882.8 281.0L871.8 281.0Z" fill="#32A868"/><path d="M885.8 304.4L891.3 294.5L880.3 294.5Z" fill="#32A868"/><path d="M894.4 340.9L899.9 331.0L888.9 331.0Z" fill="#32A868"/><path d="M902.9 340.9L908.4 331.0L897.4 331.0Z" fill="#32A868"/><path d="M911.4 331.4L916.9 321.5L905.9 321.5Z" fill="#32A868"/><path d="M919.9 352.7L925.4 342.8L914.4 342.8Z" fill="#32A868"/><path d="M928.4 397.1L933.9 387.2L922.9 387.2Z" fill="#32A868"/>
</g>
<text transform="translate(59,653.0) scale(0.925,1)" font-size="38.9" text-anchor="end">0</text>
<text transform="translate(59,548.3) scale(0.925,1)" font-size="38.9" text-anchor="end">1</text>
<text transform="translate(59,443.6) scale(0.925,1)" font-size="38.9" text-anchor="end">2</text>
<text transform="translate(59,338.9) scale(0.925,1)" font-size="38.9" text-anchor="end">3</text>
<text transform="translate(59,234.2) scale(0.925,1)" font-size="38.9" text-anchor="end">4</text>
<text transform="translate(59,129.5) scale(0.925,1)" font-size="38.9" text-anchor="end">5</text>
<text transform="translate(59,24.8) scale(0.925,1)" font-size="38.9" text-anchor="end">6</text>
<text transform="translate(81.8,745) scale(0.925,1)" font-size="38.9" text-anchor="middle">0</text>
<text transform="translate(250.7,745) scale(0.925,1)" font-size="38.9" text-anchor="middle">10</text>
<text transform="translate(419.6,745) scale(0.925,1)" font-size="38.9" text-anchor="middle">20</text>
<text transform="translate(588.5,745) scale(0.925,1)" font-size="38.9" text-anchor="middle">30</text>
<text transform="translate(757.4,745) scale(0.925,1)" font-size="38.9" text-anchor="middle">40</text>
<text transform="translate(926.3,745) scale(0.925,1)" font-size="38.9" text-anchor="middle">50</text>
<text x="504.3" y="785.5" font-size="38.65" text-anchor="middle">Distance (Å)</text>
<text transform="translate(26.7,353.6) rotate(-90)" font-size="38.6" text-anchor="middle">Relative concentration</text>
<text x="211.6" y="67.1" font-size="38.7">interface region</text>
<text x="99.5" y="678.4" font-size="38.65">silica layer</text>
<text x="544.5" y="679.4" font-size="38.65">PDMS layer</text>
<line x1="663.3" y1="45.5" x2="742.6" y2="45.5" stroke="#505050" stroke-width="2.75" stroke-linecap="round"/>
<rect x="698.9" y="41.5" width="7.9" height="7.9" fill="#505050"/>
<text x="752" y="58.1" font-size="35">Model 1</text>
<line x1="663.3" y1="89.9" x2="742.6" y2="89.9" stroke="#EF3D3E" stroke-width="2.75" stroke-linecap="round"/>
<circle cx="702.9" cy="89.9" r="4.6" fill="#EF3D3E"/>
<text x="752" y="102.5" font-size="35">Model 2</text>
<line x1="663.3" y1="134.4" x2="742.6" y2="134.4" stroke="#1E6EE0" stroke-width="2.75" stroke-linecap="round"/>
<path d="M702.9 128.0L708.4 137.9L697.4 137.9Z" fill="#1E6EE0"/>
<text x="752" y="147.0" font-size="35">Model 3</text>
<line x1="663.3" y1="178.4" x2="742.6" y2="178.4" stroke="#32A868" stroke-width="2.75" stroke-linecap="round"/>
<path d="M702.9 184.8L708.4 174.9L697.4 174.9Z" fill="#32A868"/>
<text x="752" y="191.0" font-size="35">Model 4</text>
</svg></body></html>
